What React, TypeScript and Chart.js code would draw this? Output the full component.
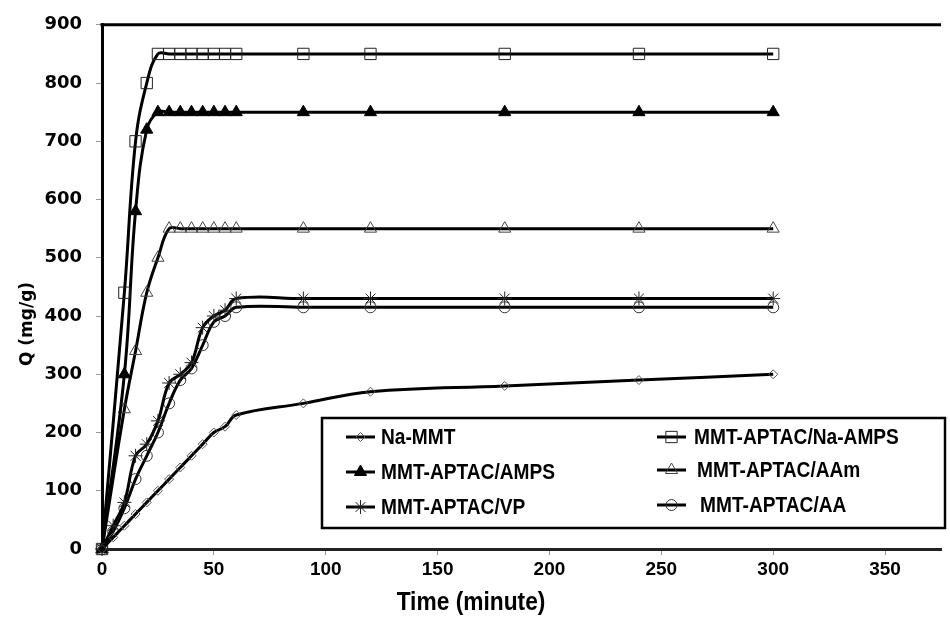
import React, { useEffect, useRef } from 'react';
import { Chart, registerables } from 'chart.js';

Chart.register(...registerables);

// ---------- data ----------
const timesFast = [0, 10, 15, 20, 25, 30, 35, 40, 45, 50, 55, 60, 90, 120, 180, 240, 300];
const timesFine = [0, 5, 10, 15, 20, 25, 30, 35, 40, 45, 50, 55, 60, 90, 120, 180, 240, 300];

const naMMT = [0, 20, 40, 60, 80, 100, 120, 140, 160, 180, 200, 210, 230, 250, 270, 280, 290, 300];
const naAMPS = [0, 440, 700, 800, 850, 850, 850, 850, 850, 850, 850, 850, 850, 850, 850, 850, 850];
const amps = [0, 300, 580, 720, 750, 750, 750, 750, 750, 750, 750, 750, 750, 750, 750, 750, 750];
const aam = [0, 240, 340, 440, 500, 550, 550, 550, 550, 550, 550, 550, 550, 550, 550, 550, 550];
const vp = [0, 40, 80, 160, 180, 220, 285, 300, 320, 380, 400, 410, 430, 430, 430, 430, 430, 430];
const aa = [0, 30, 70, 120, 160, 200, 250, 290, 310, 350, 390, 400, 415, 415, 415, 415, 415, 415];

const seriesNames = [
  'Na-MMT',
  'MMT-APTAC/Na-AMPS',
  'MMT-APTAC/AMPS',
  'MMT-APTAC/AAm',
  'MMT-APTAC/VP',
  'MMT-APTAC/AA',
];

const xTickMax = 350;
const xAxisMax = 375;
const yAxisMax = 900;

const xTitle = 'Time (minute)';
const yTitle = 'Q (mg/g)';

// ---------- styles ----------
const styles = [
  { pointStyle: 'rectRot', radius: 4.5, fill: 'rgba(0,0,0,0)', stroke: '#555' },
  { pointStyle: 'rect', radius: 8, fill: 'rgba(0,0,0,0)', stroke: '#222' },
  { pointStyle: 'triangle', radius: 7, fill: '#000', stroke: '#000' },
  { pointStyle: 'triangle', radius: 7, fill: 'rgba(0,0,0,0)', stroke: '#444' },
  { pointStyle: 'star', radius: 7, fill: 'rgba(0,0,0,0)', stroke: '#222' },
  { pointStyle: 'circle', radius: 5.5, fill: 'rgba(0,0,0,0)', stroke: '#333' },
];

function toPoints(xs: number[], ys: number[]) {
  return xs.map((x, i) => ({ x, y: ys[i] }));
}

function drawMarker(ctx: CanvasRenderingContext2D, style: string, x: number, y: number, r: number, fill: string, stroke: string) {
  ctx.save();
  ctx.beginPath();
  ctx.lineWidth = 1;
  ctx.strokeStyle = stroke;
  ctx.fillStyle = fill;
  if (style === 'rect') {
    const s = Math.SQRT1_2 * r;
    ctx.rect(x - s, y - s, 2 * s, 2 * s);
  } else if (style === 'rectRot') {
    ctx.moveTo(x, y - r);
    ctx.lineTo(x + r, y);
    ctx.lineTo(x, y + r);
    ctx.lineTo(x - r, y);
    ctx.closePath();
  } else if (style === 'triangle') {
    ctx.moveTo(x, y - r);
    ctx.lineTo(x + r * Math.sin(Math.PI / 3), y + r * 0.5);
    ctx.lineTo(x - r * Math.sin(Math.PI / 3), y + r * 0.5);
    ctx.closePath();
  } else if (style === 'circle') {
    ctx.arc(x, y, r, 0, Math.PI * 2);
  } else if (style === 'star') {
    for (let k = 0; k < 4; k++) {
      const a = (k * Math.PI) / 4;
      ctx.moveTo(x - Math.cos(a) * r, y - Math.sin(a) * r);
      ctx.lineTo(x + Math.cos(a) * r, y + Math.sin(a) * r);
    }
  }
  ctx.fill();
  ctx.stroke();
  ctx.restore();
}

function condensedText(ctx: CanvasRenderingContext2D, text: string, x: number, y: number, sx: number, align: CanvasTextAlign) {
  ctx.save();
  ctx.translate(x, y);
  ctx.scale(sx, 1);
  ctx.textAlign = align;
  ctx.fillText(text, 0, 0);
  ctx.restore();
}

const customPlugin = {
  id: 'customDecor',
  afterDraw(chart: any) {
    const ctx: CanvasRenderingContext2D = chart.ctx;
    const { left, right, top } = chart.chartArea;
    ctx.save();
    // top frame line
    ctx.strokeStyle = '#000';
    ctx.lineWidth = 3;
    ctx.beginPath();
    ctx.moveTo(left - 1.5, top);
    ctx.lineTo(right, top);
    ctx.stroke();

    // axis titles
    ctx.fillStyle = '#000';
    ctx.textBaseline = 'middle';
    ctx.font = 'bold 26px "Liberation Sans", Arial, sans-serif';
    condensedText(ctx, xTitle, 471, 603, 0.875, 'center');
    ctx.save();
    ctx.translate(28, 324);
    ctx.rotate(-Math.PI / 2);
    ctx.textAlign = 'center';
    ctx.font = 'bold 17px "DejaVu Sans", Verdana, sans-serif';
    ctx.fillText(yTitle, 0, 0);
    ctx.restore();

    // legend box
    const bx = 322, by = 418, bw = 623, bh = 110;
    ctx.fillStyle = '#fff';
    ctx.fillRect(bx, by, bw, bh);
    ctx.strokeStyle = '#000';
    ctx.lineWidth = 2.5;
    ctx.strokeRect(bx, by, bw, bh);

    const entries = [
      { i: 0, lx: 346, ly: 437, tx: 381 },
      { i: 1, lx: 657, ly: 437, tx: 694 },
      { i: 2, lx: 346, ly: 472, tx: 381 },
      { i: 3, lx: 657, ly: 470, tx: 697 },
      { i: 4, lx: 346, ly: 507, tx: 381 },
      { i: 5, lx: 657, ly: 505, tx: 700 },
    ];
    ctx.font = 'bold 22px "Liberation Sans", Arial, sans-serif';
    ctx.textBaseline = 'middle';
    for (const e of entries) {
      const st = styles[e.i];
      ctx.strokeStyle = '#000';
      ctx.lineWidth = 3;
      ctx.beginPath();
      ctx.moveTo(e.lx, e.ly);
      ctx.lineTo(e.lx + 29, e.ly);
      ctx.stroke();
      drawMarker(ctx, st.pointStyle, e.lx + 14.5, e.ly, st.radius, st.fill, st.stroke);
      ctx.fillStyle = '#000';
      condensedText(ctx, seriesNames[e.i], e.tx, e.ly + 1, 0.87, 'left');
    }
    ctx.restore();
  },
};

export default function App() {
  const canvasRef = useRef<HTMLCanvasElement | null>(null);

  useEffect(() => {
    if (!canvasRef.current) return;
    const seriesData = [
      toPoints(timesFine, naMMT),
      toPoints(timesFast, naAMPS),
      toPoints(timesFast, amps),
      toPoints(timesFast, aam),
      toPoints(timesFine, vp),
      toPoints(timesFine, aa),
    ];
    const datasets = seriesData.map((d, i) => ({
      label: seriesNames[i],
      data: d,
      borderColor: '#000',
      borderWidth: 3,
      tension: 0.4,
      fill: false,
      clip: 12,
      pointStyle: styles[i].pointStyle,
      pointRadius: styles[i].radius,
      pointBackgroundColor: styles[i].fill,
      pointBorderColor: styles[i].stroke,
      pointBorderWidth: 1,
    }));

    const chart = new Chart(canvasRef.current, {
      type: 'line',
      data: { datasets } as any,
      options: {
        animation: false,
        responsive: false,
        devicePixelRatio: 1,
        layout: { padding: { top: 22, right: 0, left: 0, bottom: 0 } },
        plugins: {
          legend: { display: false },
          tooltip: { enabled: false },
        },
        scales: {
          x: {
            type: 'linear',
            min: 0,
            max: xAxisMax,
            afterBuildTicks: (scale: any) => {
              scale.ticks = scale.ticks.filter((t: any) => t.value <= xTickMax);
            },
            afterFit: (scale: any) => {
              scale.height = 68;
            },
            ticks: {
              stepSize: 50,
              includeBounds: false,
              maxRotation: 0,
              autoSkip: false,
              padding: 3,
              color: '#000',
              font: { family: '"Liberation Sans", Arial, sans-serif', size: 19, weight: 'bold' },
            },
            grid: { drawOnChartArea: false, drawTicks: true, tickLength: 6, color: '#999', lineWidth: 1 },
            border: { display: true, color: '#222', width: 3 },
            title: { display: false },
          },
          y: {
            type: 'linear',
            min: 0,
            max: yAxisMax,
            afterFit: (scale: any) => {
              scale.width = 102;
            },
            ticks: {
              stepSize: 100,
              padding: 14,
              color: '#000',
              font: { family: '"DejaVu Sans", Verdana, sans-serif', size: 18, weight: 'bold' },
            },
            grid: { drawOnChartArea: false, drawTicks: true, tickLength: 6, color: '#999', lineWidth: 1 },
            border: { display: true, color: '#000', width: 3 },
            title: { display: false },
          },
        },
      } as any,
      plugins: [customPlugin],
    });
    return () => chart.destroy();
  }, []);

  return (
    <div style={{ position: 'fixed', left: 0, top: 0, width: 950, height: 617, background: '#fff', overflow: 'hidden' }}>
      <canvas ref={canvasRef} width={950} height={617} />
    </div>
  );
}
